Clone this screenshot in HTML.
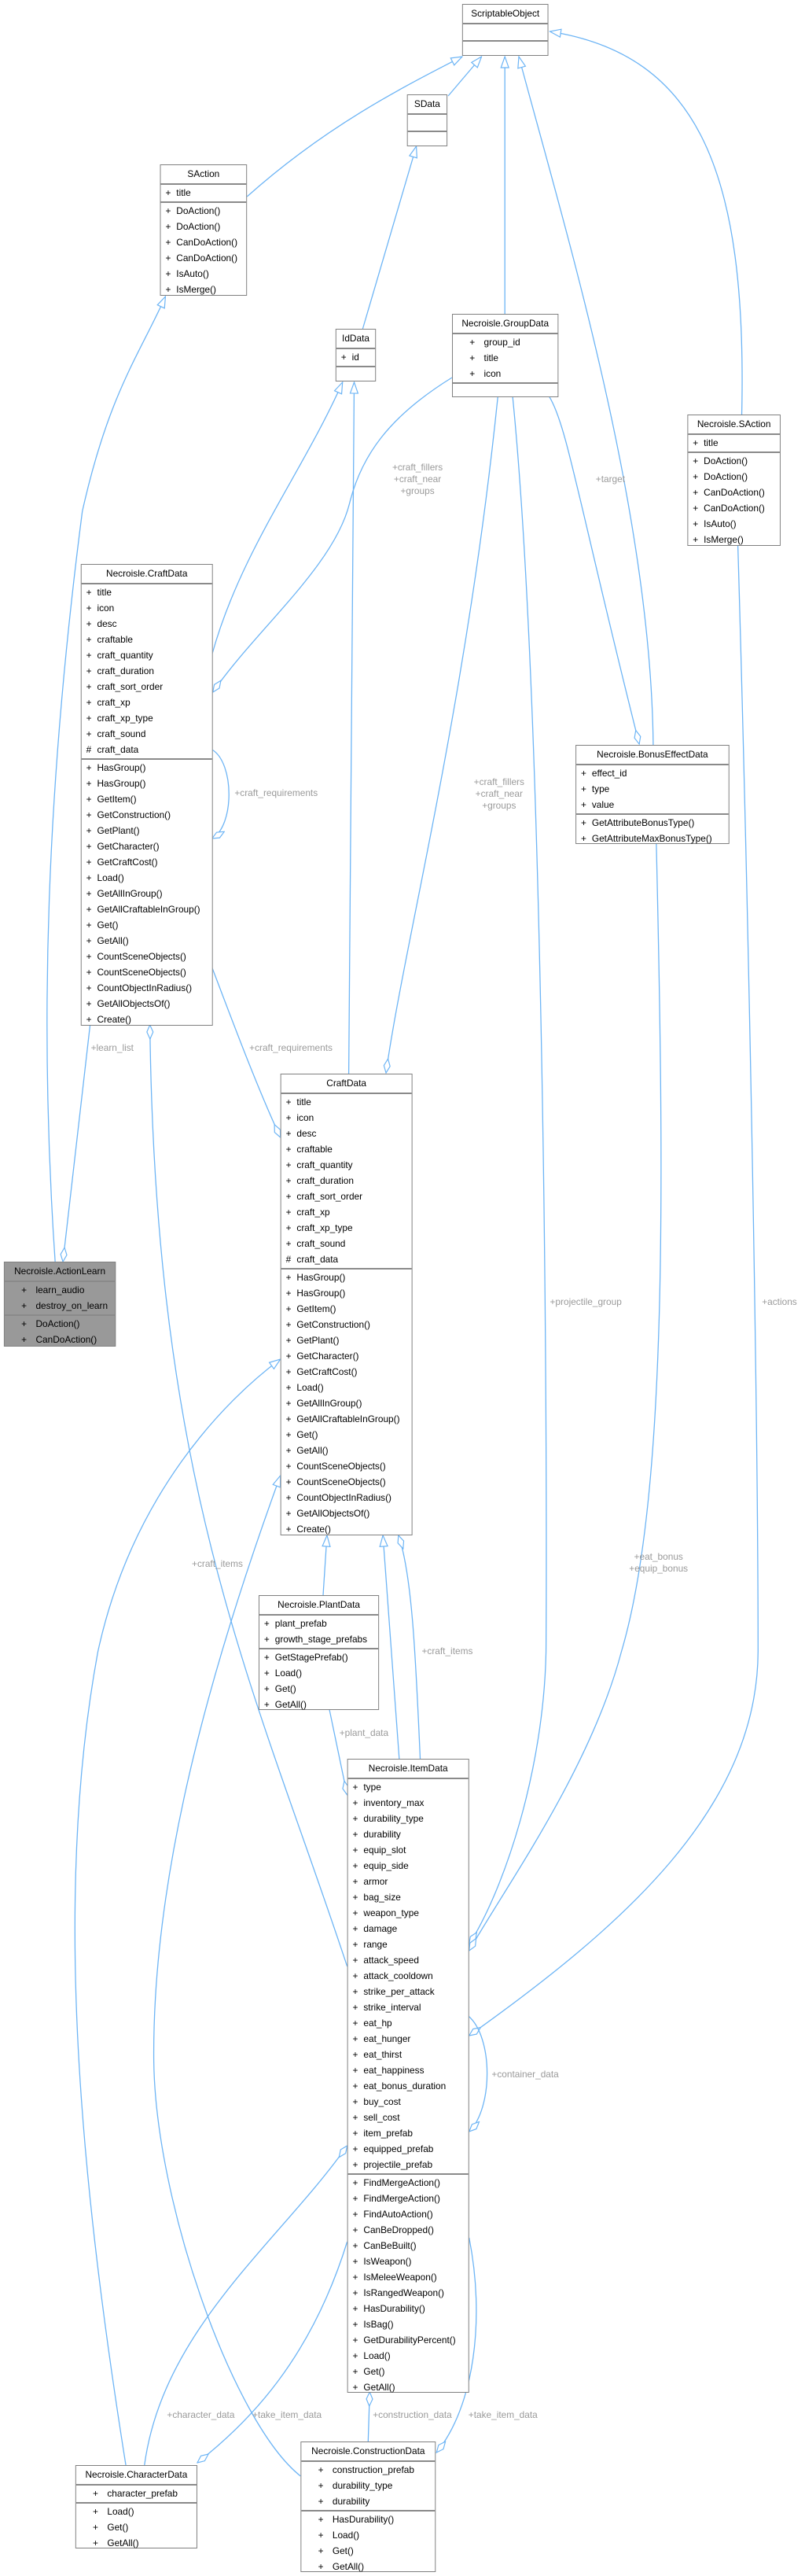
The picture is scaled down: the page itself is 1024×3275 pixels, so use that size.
<!DOCTYPE html>
<html><head><meta charset="utf-8"><style>
html,body{margin:0;padding:0;background:#fff;}
body{width:1024px;height:3275px;position:relative;overflow:hidden;font-family:"Liberation Sans",sans-serif;font-size:12px;color:#000;}
#wrap{position:absolute;left:0;top:0;width:1036px;height:3275px;transform:scaleX(0.988);transform-origin:0 0;}
.box{position:absolute;background:#fff;border:1px solid #808080;box-sizing:border-box;}
.box.gray{background:#999;}
.hd{height:23px;line-height:23px;text-align:center;white-space:nowrap;}
.sec{border-top:2px solid #8a8a8a;padding:0 0 1px 0;}
.r{height:20px;line-height:20px;white-space:nowrap;padding-left:6px;}
.r b{font-weight:normal;display:inline-block;width:14px;}
.w .r b{width:30px;text-align:center;}
.w .r{padding-left:10px;}
.e{height:19px;}
svg{position:absolute;left:0;top:0;}
.lb{position:absolute;color:#9a9a9a;font-size:12px;white-space:nowrap;line-height:15px;text-align:center;}
</style></head><body><div id="wrap">
<svg width="1036" height="3275" viewBox="0 0 1036 3275">
<defs>
<marker id="t" markerWidth="16" markerHeight="12" refX="15" refY="6" orient="auto" markerUnits="userSpaceOnUse"><path d="M1,1 L15,6 L1,11 Z" fill="#fff" stroke="#6cb4f5" stroke-width="1.2"/></marker>
<marker id="d" markerWidth="20" markerHeight="10" refX="19" refY="5" orient="auto" markerUnits="userSpaceOnUse"><path d="M1,5 L10,1 L19,5 L10,9 Z" fill="#fff" stroke="#6cb4f5" stroke-width="1.2"/></marker>
</defs>
<g fill="none" stroke="#6cb4f5" stroke-width="1.3">
<path d="M318,250 C 420,160 520,110 595,72" marker-end="url(#t)"/>
<path d="M577,122 L 620,72" marker-end="url(#t)"/>
<path d="M650,399 L 650,72" marker-end="url(#t)"/>
<path d="M841,947 C 838,650 730,300 668,72" marker-end="url(#t)"/>
<path d="M955,527 C 962,220 900,70 708,40" marker-end="url(#t)"/>
<path d="M467,418 L 536,186" marker-end="url(#t)"/>
<path d="M273,832 C 310,700 390,600 441,486" marker-end="url(#t)"/>
<path d="M449,1365 L 456,486" marker-end="url(#t)"/>
<path d="M582,480 C 500,530 465,580 450,640 C 430,720 330,800 274,880" marker-end="url(#d)"/>
<path d="M641,504 C 600,900 520,1200 497,1364" marker-end="url(#d)"/>
<path d="M660,504 C 700,900 705,1800 703,2100 C 700,2250 650,2400 604,2472" marker-end="url(#d)"/>
<path d="M707,504 C 730,540 745,640 823,946" marker-end="url(#d)"/>
<path d="M845,1072 C 855,1500 860,1900 800,2100 C 760,2250 650,2400 604,2480" marker-end="url(#d)"/>
<path d="M950,693 C 965,1200 976,1800 976,2100 C 975,2300 800,2450 604,2588" marker-end="url(#d)"/>
<path d="M273,953 C 302,970 302,1050 273,1066" marker-end="url(#d)"/>
<path d="M273,1230 C 300,1300 330,1380 361,1446" marker-end="url(#d)"/>
<path d="M71,1604 C 50,1300 60,1000 106,650 C 140,500 180,450 213,377" marker-end="url(#t)"/>
<path d="M116,1303 L 81,1604" marker-end="url(#d)"/>
<path d="M447,2500 C 330,2150 200,1900 193,1303" marker-end="url(#d)"/>
<path d="M416,2028 L 421,1952" marker-end="url(#t)"/>
<path d="M514,2236 L 493,1952" marker-end="url(#t)"/>
<path d="M541,2236 C 535,2100 530,2000 513,1952" marker-end="url(#d)"/>
<path d="M162,3134 C 100,2750 70,2400 126,2100 C 170,1900 290,1780 361,1728" marker-end="url(#t)"/>
<path d="M387,3148 C 300,3080 200,2800 198,2620 C 196,2400 260,2150 361,1876" marker-end="url(#t)"/>
<path d="M424,2173 L 447,2282" marker-end="url(#d)"/>
<path d="M603,2563 C 635,2590 635,2680 604,2710" marker-end="url(#d)"/>
<path d="M447,2850 C 400,3000 320,3080 254,3131" marker-end="url(#d)"/>
<path d="M186,3134 C 210,2960 360,2850 447,2728" marker-end="url(#d)"/>
<path d="M474,3104 L 476,3041" marker-end="url(#d)"/>
<path d="M604,2845 C 625,2950 610,3060 562,3118" marker-end="url(#d)"/>
</g>
</svg>

<div class="box" style="left:595px;top:5px;width:111px;height:66px"><div class="hd">ScriptableObject</div><div class="sec"><div class="e"></div></div><div class="sec"></div></div>
<div class="box" style="left:524px;top:120px;width:52px;height:66px"><div class="hd">SData</div><div class="sec"><div class="e"></div></div><div class="sec"></div></div>
<div class="box" style="left:206px;top:209px;width:112px;height:167px"><div class="hd">SAction</div>
<div class="sec"><div class="r"><b>+</b>title</div></div>
<div class="sec"><div class="r"><b>+</b>DoAction()</div><div class="r"><b>+</b>DoAction()</div><div class="r"><b>+</b>CanDoAction()</div><div class="r"><b>+</b>CanDoAction()</div><div class="r"><b>+</b>IsAuto()</div><div class="r"><b>+</b>IsMerge()</div></div></div>
<div class="box" style="left:432px;top:418px;width:52px;height:67px"><div class="hd">IdData</div><div class="sec"><div class="r"><b>+</b>id</div></div><div class="sec"></div></div>
<div class="box w" style="left:582px;top:399px;width:137px;height:106px"><div class="hd">Necroisle.GroupData</div>
<div class="sec"><div class="r"><b>+</b>group_id</div><div class="r"><b>+</b>title</div><div class="r"><b>+</b>icon</div></div><div class="sec"></div></div>
<div class="box" style="left:885px;top:527px;width:120px;height:167px"><div class="hd">Necroisle.SAction</div>
<div class="sec"><div class="r"><b>+</b>title</div></div>
<div class="sec"><div class="r"><b>+</b>DoAction()</div><div class="r"><b>+</b>DoAction()</div><div class="r"><b>+</b>CanDoAction()</div><div class="r"><b>+</b>CanDoAction()</div><div class="r"><b>+</b>IsAuto()</div><div class="r"><b>+</b>IsMerge()</div></div></div>

<div class="box" style="left:104px;top:717px;width:170px;height:587px"><div class="hd">Necroisle.CraftData</div>
<div class="sec"><div class="r"><b>+</b>title</div><div class="r"><b>+</b>icon</div><div class="r"><b>+</b>desc</div><div class="r"><b>+</b>craftable</div><div class="r"><b>+</b>craft_quantity</div><div class="r"><b>+</b>craft_duration</div><div class="r"><b>+</b>craft_sort_order</div><div class="r"><b>+</b>craft_xp</div><div class="r"><b>+</b>craft_xp_type</div><div class="r"><b>+</b>craft_sound</div><div class="r"><b>#</b>craft_data</div></div>
<div class="sec"><div class="r"><b>+</b>HasGroup()</div><div class="r"><b>+</b>HasGroup()</div><div class="r"><b>+</b>GetItem()</div><div class="r"><b>+</b>GetConstruction()</div><div class="r"><b>+</b>GetPlant()</div><div class="r"><b>+</b>GetCharacter()</div><div class="r"><b>+</b>GetCraftCost()</div><div class="r"><b>+</b>Load()</div><div class="r"><b>+</b>GetAllInGroup()</div><div class="r"><b>+</b>GetAllCraftableInGroup()</div><div class="r"><b>+</b>Get()</div><div class="r"><b>+</b>GetAll()</div><div class="r"><b>+</b>CountSceneObjects()</div><div class="r"><b>+</b>CountSceneObjects()</div><div class="r"><b>+</b>CountObjectInRadius()</div><div class="r"><b>+</b>GetAllObjectsOf()</div><div class="r"><b>+</b>Create()</div></div></div>

<div class="box" style="left:741px;top:947px;width:198px;height:126px"><div class="hd">Necroisle.BonusEffectData</div>
<div class="sec"><div class="r"><b>+</b>effect_id</div><div class="r"><b>+</b>type</div><div class="r"><b>+</b>value</div></div>
<div class="sec"><div class="r"><b>+</b>GetAttributeBonusType()</div><div class="r"><b>+</b>GetAttributeMaxBonusType()</div></div></div>

<div class="box" style="left:361px;top:1365px;width:170px;height:587px"><div class="hd">CraftData</div>
<div class="sec"><div class="r"><b>+</b>title</div><div class="r"><b>+</b>icon</div><div class="r"><b>+</b>desc</div><div class="r"><b>+</b>craftable</div><div class="r"><b>+</b>craft_quantity</div><div class="r"><b>+</b>craft_duration</div><div class="r"><b>+</b>craft_sort_order</div><div class="r"><b>+</b>craft_xp</div><div class="r"><b>+</b>craft_xp_type</div><div class="r"><b>+</b>craft_sound</div><div class="r"><b>#</b>craft_data</div></div>
<div class="sec"><div class="r"><b>+</b>HasGroup()</div><div class="r"><b>+</b>HasGroup()</div><div class="r"><b>+</b>GetItem()</div><div class="r"><b>+</b>GetConstruction()</div><div class="r"><b>+</b>GetPlant()</div><div class="r"><b>+</b>GetCharacter()</div><div class="r"><b>+</b>GetCraftCost()</div><div class="r"><b>+</b>Load()</div><div class="r"><b>+</b>GetAllInGroup()</div><div class="r"><b>+</b>GetAllCraftableInGroup()</div><div class="r"><b>+</b>Get()</div><div class="r"><b>+</b>GetAll()</div><div class="r"><b>+</b>CountSceneObjects()</div><div class="r"><b>+</b>CountSceneObjects()</div><div class="r"><b>+</b>CountObjectInRadius()</div><div class="r"><b>+</b>GetAllObjectsOf()</div><div class="r"><b>+</b>Create()</div></div></div>

<div class="box gray w" style="left:5px;top:1604px;width:144px;height:108px"><div class="hd">Necroisle.ActionLearn</div>
<div class="sec"><div class="r"><b>+</b>learn_audio</div><div class="r"><b>+</b>destroy_on_learn</div></div>
<div class="sec"><div class="r"><b>+</b>DoAction()</div><div class="r"><b>+</b>CanDoAction()</div></div></div>

<div class="box" style="left:333px;top:2028px;width:155px;height:146px"><div class="hd">Necroisle.PlantData</div>
<div class="sec"><div class="r"><b>+</b>plant_prefab</div><div class="r"><b>+</b>growth_stage_prefabs</div></div>
<div class="sec"><div class="r"><b>+</b>GetStagePrefab()</div><div class="r"><b>+</b>Load()</div><div class="r"><b>+</b>Get()</div><div class="r"><b>+</b>GetAll()</div></div></div>

<div class="box" style="left:447px;top:2236px;width:157px;height:806px"><div class="hd">Necroisle.ItemData</div>
<div class="sec"><div class="r"><b>+</b>type</div><div class="r"><b>+</b>inventory_max</div><div class="r"><b>+</b>durability_type</div><div class="r"><b>+</b>durability</div><div class="r"><b>+</b>equip_slot</div><div class="r"><b>+</b>equip_side</div><div class="r"><b>+</b>armor</div><div class="r"><b>+</b>bag_size</div><div class="r"><b>+</b>weapon_type</div><div class="r"><b>+</b>damage</div><div class="r"><b>+</b>range</div><div class="r"><b>+</b>attack_speed</div><div class="r"><b>+</b>attack_cooldown</div><div class="r"><b>+</b>strike_per_attack</div><div class="r"><b>+</b>strike_interval</div><div class="r"><b>+</b>eat_hp</div><div class="r"><b>+</b>eat_hunger</div><div class="r"><b>+</b>eat_thirst</div><div class="r"><b>+</b>eat_happiness</div><div class="r"><b>+</b>eat_bonus_duration</div><div class="r"><b>+</b>buy_cost</div><div class="r"><b>+</b>sell_cost</div><div class="r"><b>+</b>item_prefab</div><div class="r"><b>+</b>equipped_prefab</div><div class="r"><b>+</b>projectile_prefab</div></div>
<div class="sec"><div class="r"><b>+</b>FindMergeAction()</div><div class="r"><b>+</b>FindMergeAction()</div><div class="r"><b>+</b>FindAutoAction()</div><div class="r"><b>+</b>CanBeDropped()</div><div class="r"><b>+</b>CanBeBuilt()</div><div class="r"><b>+</b>IsWeapon()</div><div class="r"><b>+</b>IsMeleeWeapon()</div><div class="r"><b>+</b>IsRangedWeapon()</div><div class="r"><b>+</b>HasDurability()</div><div class="r"><b>+</b>IsBag()</div><div class="r"><b>+</b>GetDurabilityPercent()</div><div class="r"><b>+</b>Load()</div><div class="r"><b>+</b>Get()</div><div class="r"><b>+</b>GetAll()</div></div></div>

<div class="box w" style="left:97px;top:3134px;width:157px;height:106px"><div class="hd">Necroisle.CharacterData</div>
<div class="sec"><div class="r"><b>+</b>character_prefab</div></div>
<div class="sec"><div class="r"><b>+</b>Load()</div><div class="r"><b>+</b>Get()</div><div class="r"><b>+</b>GetAll()</div></div></div>

<div class="box w" style="left:387px;top:3104px;width:174px;height:166px"><div class="hd">Necroisle.ConstructionData</div>
<div class="sec"><div class="r"><b>+</b>construction_prefab</div><div class="r"><b>+</b>durability_type</div><div class="r"><b>+</b>durability</div></div>
<div class="sec"><div class="r"><b>+</b>HasDurability()</div><div class="r"><b>+</b>Load()</div><div class="r"><b>+</b>Get()</div><div class="r"><b>+</b>GetAll()</div></div></div>

<div class="lb" style="left:505px;top:587px">+craft_fillers<br>+craft_near<br>+groups</div>
<div class="lb" style="left:767px;top:602px">+target</div>
<div class="lb" style="left:610px;top:987px">+craft_fillers<br>+craft_near<br>+groups</div>
<div class="lb" style="left:302px;top:1001px">+craft_requirements</div>
<div class="lb" style="left:321px;top:1325px">+craft_requirements</div>
<div class="lb" style="left:117px;top:1325px">+learn_list</div>
<div class="lb" style="left:708px;top:1648px">+projectile_group</div>
<div class="lb" style="left:981px;top:1648px">+actions</div>
<div class="lb" style="left:247px;top:1981px">+craft_items</div>
<div class="lb" style="left:810px;top:1972px">+eat_bonus<br>+equip_bonus</div>
<div class="lb" style="left:543px;top:2092px">+craft_items</div>
<div class="lb" style="left:437px;top:2196px">+plant_data</div>
<div class="lb" style="left:633px;top:2630px">+container_data</div>
<div class="lb" style="left:215px;top:3063px">+character_data</div>
<div class="lb" style="left:325px;top:3063px">+take_item_data</div>
<div class="lb" style="left:480px;top:3063px">+construction_data</div>
<div class="lb" style="left:603px;top:3063px">+take_item_data</div>
</div></body></html>
